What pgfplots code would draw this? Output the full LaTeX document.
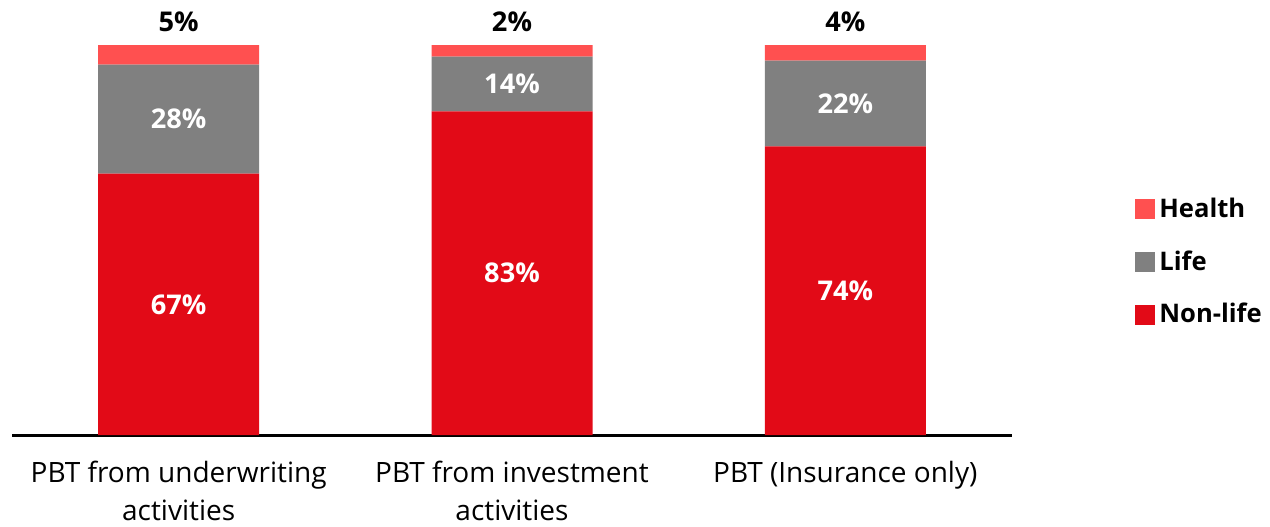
\documentclass[border=0pt]{standalone}
\usepackage{fontspec}
\setmainfont{Open Sans}
\usepackage{pgfplots}
\pgfplotsset{compat=1.18}
\definecolor{nonlife}{RGB}{226,10,23}
\definecolor{life}{RGB}{128,128,128}
\definecolor{health}{RGB}{255,80,80}
\tikzset{vlab/.style={font=\bfseries\fontsize{13.6}{14}\selectfont}}
\begin{document}
\begin{tikzpicture}
\useasboundingbox (-6pt,-45.5pt) rectangle (629pt,217.5pt);
\begin{axis}[
  at={(0,0)}, anchor=south west,
  scale only axis, width=500pt, height=195pt,
  xmin=-0.5, xmax=2.5, ymin=0, ymax=100,
  ybar stacked, bar width=80.5pt, clip=false,
  axis x line*=bottom, axis y line=none,
  x axis line style={line width=1.5pt,-},
  xtick={0,1,2},
  xticklabels={{PBT from underwriting\\activities},{PBT from investment\\activities},{PBT (Insurance only)}},
  major tick length=0pt,
  xticklabel style={align=center, font=\fontsize{14}{19}\selectfont, yshift=-9.5pt},
  reverse legend,
  legend cell align=left,
  legend style={draw=none, at={(1.123,0.4436)}, anchor=west, inner sep=0pt,
    font=\bfseries\fontsize{12.8}{14}\selectfont, row sep=11pt,
    /tikz/every even column/.append style={column sep=3pt}},
  legend image code/.code={\fill (0pt,-5pt) rectangle (10pt,5pt);},
]
\addplot[fill=nonlife, draw=none] coordinates {(0,67) (1,83) (2,74)};
\addlegendentry{Non-life}
\addplot[fill=life, draw=none] coordinates {(0,28) (1,14) (2,22)};
\addlegendentry{Life}
\addplot[fill=health, draw=none] coordinates {(0,5) (1,3) (2,4)};
\addlegendentry{Health}
\coordinate (n0) at (axis cs:0,33.5);
\coordinate (n1) at (axis cs:1,41.5);
\coordinate (n2) at (axis cs:2,37);
\coordinate (l0) at (axis cs:0,81);
\coordinate (l1) at (axis cs:1,90);
\coordinate (l2) at (axis cs:2,85);
\coordinate (h0) at (axis cs:0,106);
\coordinate (h1) at (axis cs:1,106);
\coordinate (h2) at (axis cs:2,106);
\end{axis}
\node[vlab,white] at (n0) {67\%};
\node[vlab,white] at (n1) {83\%};
\node[vlab,white] at (n2) {74\%};
\node[vlab,white] at (l0) {28\%};
\node[vlab,white] at (l1) {14\%};
\node[vlab,white] at (l2) {22\%};
\node[vlab,black] at (h0) {5\%};
\node[vlab,black] at (h1) {2\%};
\node[vlab,black] at (h2) {4\%};
\end{tikzpicture}
\end{document}
